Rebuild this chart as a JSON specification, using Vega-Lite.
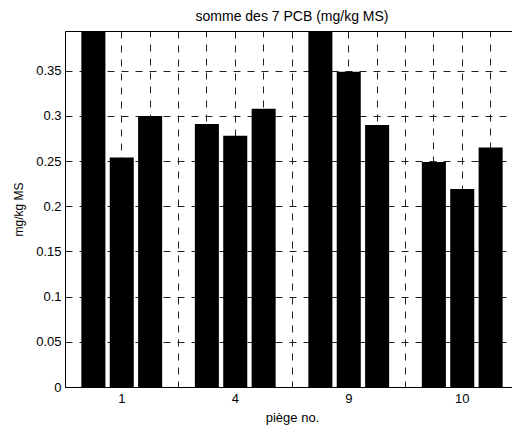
{
  "$schema": "https://vega.github.io/schema/vega-lite/v6.json",
  "autosize": {"type": "none"},
  "padding": {"left": 65, "top": 31, "right": 0, "bottom": 41},
  "width": 447,
  "height": 356,
  "background": "white",
  "title": {"text": "somme des 7 PCB (mg/kg MS)", "fontSize": 14, "font": "Liberation Sans", "fontWeight": "normal", "color": "black", "offset": 7, "frame": "group", "anchor": "middle", "dx": 3.5},
  "config": {
    "font": "Liberation Sans",
    "view": {"stroke": null},
    "axis": {
      "labelFont": "Liberation Sans",
      "titleFont": "Liberation Sans",
      "labelFontSize": 13,
      "titleFontSize": 13,
      "titleFontWeight": "normal",
      "labelColor": "black",
      "titleColor": "black",
      "domainColor": "black",
      "domainWidth": 1,
      "gridColor": "#222222",
      "gridDash": [7, 7],
      "gridWidth": 1,
      "gridOpacity": 1
    }
  },
  "data": {
    "values": [
      {"piege": "1", "serie": "a", "valeur": 0.42},
      {"piege": "1", "serie": "b", "valeur": 0.254},
      {"piege": "1", "serie": "c", "valeur": 0.300},
      {"piege": "4", "serie": "a", "valeur": 0.291},
      {"piege": "4", "serie": "b", "valeur": 0.278},
      {"piege": "4", "serie": "c", "valeur": 0.308},
      {"piege": "9", "serie": "a", "valeur": 0.42},
      {"piege": "9", "serie": "b", "valeur": 0.349},
      {"piege": "9", "serie": "c", "valeur": 0.290},
      {"piege": "10", "serie": "a", "valeur": 0.249},
      {"piege": "10", "serie": "b", "valeur": 0.219},
      {"piege": "10", "serie": "c", "valeur": 0.265}
    ]
  },
  "resolve": {"axis": {"x": "independent"}},
  "layer": [
    {
      "mark": {"type": "bar", "color": "black", "clip": true},
      "encoding": {
        "x": {
          "field": "piege", "type": "ordinal", "sort": ["1", "4", "9", "10"],
          "scale": {"paddingInner": 0, "paddingOuter": 0, "range": [0, 454]},
          "axis": {"orient": "bottom", "title": "piège no.", "labelAngle": 0, "ticks": false, "grid": true, "bandPosition": 0.5, "labelPadding": 5, "titlePadding": 6, "domain": true}
        },
        "xOffset": {"field": "serie", "type": "nominal", "scale": {"paddingInner": 0.153, "paddingOuter": 0.576}},
        "y": {
          "field": "valeur", "type": "quantitative",
          "scale": {"domain": [0, 0.394], "nice": false},
          "axis": {"title": "mg/kg MS", "values": [0, 0.05, 0.1, 0.15, 0.2, 0.25, 0.3, 0.35], "format": "~g", "grid": true, "ticks": false, "labelPadding": 4, "titlePadding": 10, "titleFontSize": 12}
        }
      }
    },
    {
      "mark": {"type": "bar", "opacity": 0},
      "encoding": {
        "x": {
          "field": "piege", "type": "ordinal", "sort": ["1", "4", "9", "10"],
          "axis": {"orient": "top", "bandPosition": 0, "grid": true, "labels": false, "ticks": false, "title": null, "domain": true}
        }
      }
    },
    {
      "mark": {"type": "bar", "opacity": 0},
      "encoding": {
        "x": {
          "field": "piege", "type": "ordinal", "sort": ["1", "4", "9", "10"],
          "axis": {"orient": "bottom", "bandPosition": 0.25, "grid": true, "labels": false, "ticks": false, "title": null, "domain": false}
        }
      }
    },
    {
      "mark": {"type": "bar", "opacity": 0},
      "encoding": {
        "x": {
          "field": "piege", "type": "ordinal", "sort": ["1", "4", "9", "10"],
          "axis": {"orient": "bottom", "bandPosition": 0.75, "grid": true, "labels": false, "ticks": false, "title": null, "domain": false}
        }
      }
    }
  ]
}
